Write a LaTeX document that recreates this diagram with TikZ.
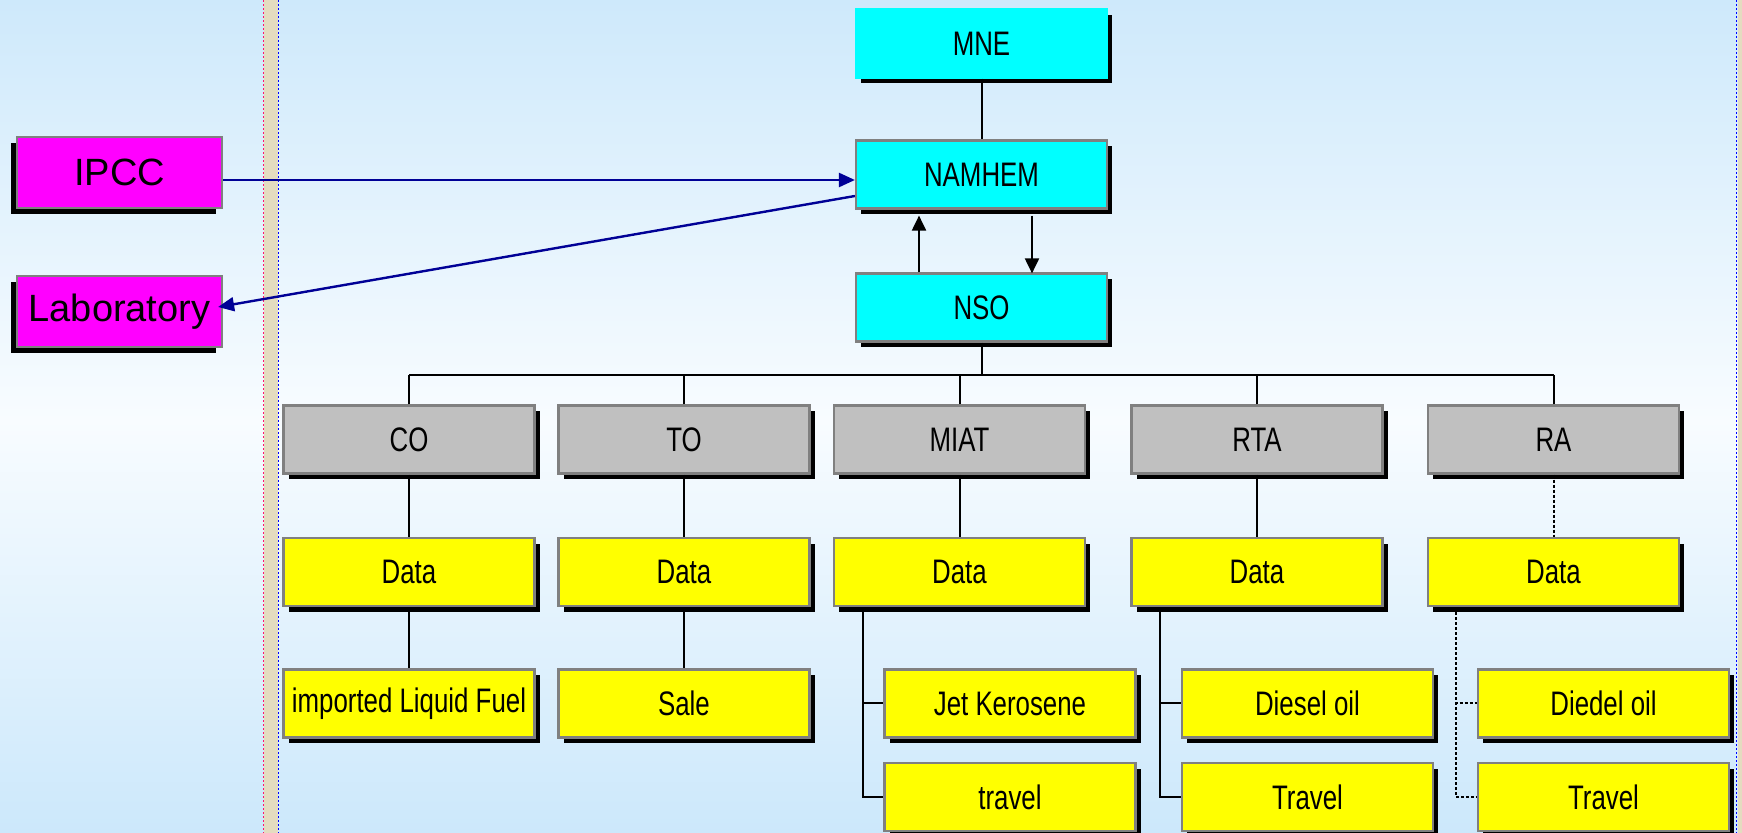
\documentclass[tikz,border=0pt]{standalone}
\usepackage{fontspec}
\setmainfont{Liberation Sans}
\newfontfamily\narrowfont[FakeStretch=0.76]{Liberation Sans}
\usetikzlibrary{arrows.meta,shadows,calc}
\definecolor{bgtop}{RGB}{206,233,251}
\definecolor{bgmid}{RGB}{248,252,255}
\definecolor{bgbot}{RGB}{204,232,251}
\definecolor{stripebeige}{RGB}{228,220,192}
\definecolor{stripered}{RGB}{255,20,110}
\definecolor{navyline}{RGB}{0,0,150}
\definecolor{boxborder}{RGB}{128,128,128}
\definecolor{boxgray}{RGB}{192,192,192}
\definecolor{boxcyan}{RGB}{0,255,255}
\definecolor{boxyellow}{RGB}{255,255,0}
\definecolor{boxmagenta}{RGB}{255,0,255}
\definecolor{stripeblue}{RGB}{0,0,255}
\begin{document}
\begin{tikzpicture}[x=0.5pt,y=-0.5pt,
  box/.style={draw=boxborder, line width=1.1pt, minimum width=125.5pt, minimum height=34pt,
    inner sep=0pt, font=\narrowfont\fontsize{17pt}{20pt}\selectfont,
    drop shadow={shadow xshift=2.5pt, shadow yshift=-2.8pt, fill=black, opacity=1}},
  cyanbox/.style={box, fill=boxcyan},
  graybox/.style={box, fill=boxgray},
  yelbox/.style={box, fill=boxyellow},
  magbox/.style={draw=boxborder, line width=1.1pt, fill=boxmagenta, minimum width=102.5pt,
    minimum height=35.5pt, inner sep=0pt, font=\fontsize{19pt}{22pt}\selectfont,
    drop shadow={shadow xshift=-3pt, shadow yshift=-3pt, fill=black, opacity=1}},
  conn/.style={line width=1pt, black},
  dotconn/.style={line width=1pt, black, dash pattern=on 1.5pt off 1pt},
  blkarr/.style={line width=1pt, black, -{Triangle[length=7.5pt,width=7pt]}},
  navyarr/.style={line width=1.2pt, navyline, -{Triangle[length=8pt,width=7pt]}}
]
\useasboundingbox (0,0) rectangle (1742,833);
% background
\shade[top color=bgtop, bottom color=bgmid] (0,0) rectangle (1742,420);
\shade[top color=bgmid, bottom color=bgbot] (0,420) rectangle (1742,833);
\fill[stripebeige] (264,0) rectangle (277.5,833);
\draw[stripered, line width=0.7pt, dash pattern=on 1pt off 1pt] (263.5,0) -- (263.5,833);
\draw[stripeblue, line width=0.7pt, dash pattern=on 1pt off 1pt] (278.5,0) -- (278.5,833);
\fill[stripebeige] (1737.5,0) rectangle (1742,833);
\draw[stripeblue, line width=0.7pt, dash pattern=on 1pt off 1pt] (1736.5,0) -- (1736.5,833);

% top nodes
\node[cyanbox, draw=boxcyan] (mne) at (981.5,43.5) {MNE};
\node[cyanbox] (namhem) at (981.5,174.5) {NAMHEM};
\node[cyanbox] (nso) at (981.5,307.5) {NSO};

\node[magbox] (ipcc) at (119.5,172.5) {IPCC};
\node[magbox] (lab) at (119.5,311.5) {Laboratory};

% gray row
\node[graybox] (co) at (409,439.5) {CO};
\node[graybox] (to) at (684,439.5) {TO};
\node[graybox] (miat) at (959.5,439.5) {MIAT};
\node[graybox] (rta) at (1257,439.5) {RTA};
\node[graybox] (ra) at (1553.5,439.5) {RA};

% data row
\node[yelbox] (cod) at (409,572) {Data};
\node[yelbox] (tod) at (684,572) {Data};
\node[yelbox] (miatd) at (959.5,572) {Data};
\node[yelbox] (rtad) at (1257,572) {Data};
\node[yelbox] (rad) at (1553.5,572) {Data};

% children
\node[yelbox] (coc) at (409,703.5) {imported Liquid Fuel};
\node[yelbox] (toc) at (684,703.5) {Sale};
\node[yelbox] (miata) at (1010,703.5) {Jet Kerosene};
\node[yelbox] (miatb) at (1010,797) {travel};
\node[yelbox] (rtaa) at (1307.5,703.5) {Diesel oil};
\node[yelbox] (rtab) at (1307.5,797) {Travel};
\node[yelbox] (raa) at (1603.5,703.5) {Diedel oil};
\node[yelbox] (rab) at (1603.5,797) {Travel};

% connectors
\draw[conn] (mne.south) -- (namhem.north);
\draw[blkarr] ($(nso.north)+(-62.5,0)$) -- ($(namhem.south)+(-62.5,6)$);
\draw[blkarr] ($(namhem.south)+(50.5,6)$) -- ($(nso.north)+(50.5,1)$);
\draw[navyarr] ($(ipcc.east)+(0,7.5)$) -- ($(ipcc.east -| namhem.west)+(0,7.5)$);
\draw[navyarr] ($(namhem.west)+(0,21.5)$) -- ($(lab.east)+(-5,-4.5)$);

\coordinate (bus) at (981.5,375);
\draw[conn] (nso.south) -- (bus);
\draw[conn] (co.north |- bus) -- (ra.north |- bus);
\foreach \n in {co,to,miat,rta,ra} \draw[conn] (\n.north) -- (\n.north |- bus);
\foreach \n in {co,to,miat,rta} \draw[conn] (\n.south) -- (\n d.north);
\draw[dotconn] (ra.south) -- (rad.north);
\draw[conn] (cod.south) -- (coc.north);
\draw[conn] (tod.south) -- (toc.north);
\draw[conn] ($(miatd.south west)+(30,0)$) |- (miata.west);
\draw[conn] ($(miatd.south west)+(30,0)$) |- (miatb.west);
\draw[conn] ($(rtad.south west)+(30,0)$) |- (rtaa.west);
\draw[conn] ($(rtad.south west)+(30,0)$) |- (rtab.west);
\draw[dotconn] ($(rad.south west)+(29,0)$) |- (raa.west);
\draw[dotconn] ($(rad.south west)+(29,0)$) |- (rab.west);
\end{tikzpicture}
\end{document}
